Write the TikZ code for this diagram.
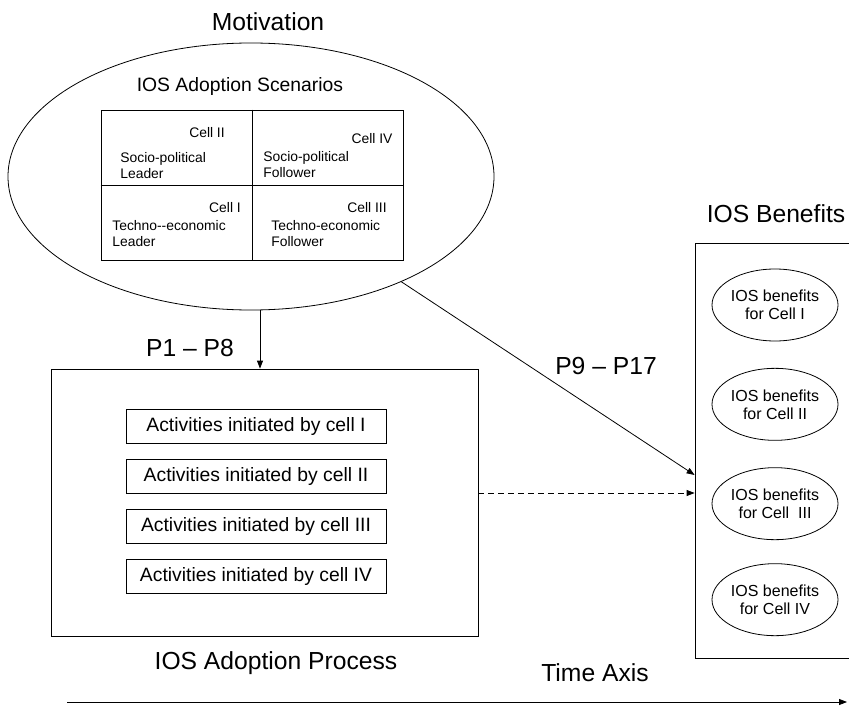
\documentclass[tikz,border=0pt]{standalone}
\usepackage{fontspec}
\setmainfont{Liberation Sans}
\usetikzlibrary{positioning,shapes.geometric,arrows.meta}

\begin{document}
\begin{tikzpicture}[x=0.75pt,y=-0.75pt,line width=0.6pt,on grid,
		>={Triangle[length=6pt,width=4.5pt]},
		heading/.style={inner sep=0pt, font=\fontsize{18.5}{22}\selectfont},
		activity/.style={draw, minimum width=195pt, minimum height=25.5pt, inner sep=0pt, font=\fontsize{14.5}{17}\selectfont},
		benefit/.style={draw, ellipse, minimum width=94.5pt, minimum height=54pt, inner sep=0pt, align=center, font=\fontsize{12}{13.5}\selectfont},
		celltext/.style={inner sep=0pt, align=left, font=\fontsize{10.4}{12}\selectfont}]
		\useasboundingbox (0,0) rectangle (849,706);
		\clip (0,0) rectangle (849,706);
		
		% motivation
		\node[heading] (motivlbl) at (268,22) {Motivation};
		\node[draw, ellipse, minimum width=364.5pt, minimum height=200.25pt, inner sep=0pt] (motiv) at (251,176.5) {};
		\node[inner sep=0pt, font=\fontsize{14.5}{17}\selectfont] (scen) at (240,87) {IOS Adoption Scenarios};
		\node[draw, minimum width=226.5pt, minimum height=112.5pt, inner sep=0pt] (grid) at (252,185) {};
		\draw (grid.north) -- (grid.south);
		\draw (grid.west) -- (grid.east);
		
		\node[celltext] (c2) at (207,133) {Cell II};
		\node[celltext, anchor=west] (c2t) at (120,166) {Socio-political\\Leader};
		\node[celltext] (c4) at (372,139) {Cell IV};
		\node[celltext, anchor=west] (c4t) at (263,164.5) {Socio-political\\Follower};
		\node[celltext] (c1) at (225,208) {Cell I};
		\node[celltext, anchor=west] (c1t) at (112,233.5) {Techno-{}-economic\\Leader};
		\node[celltext] (c3) at (367,208) {Cell III};
		\node[celltext, anchor=west] (c3t) at (271,233.5) {Techno-economic\\Follower};
		
		% adoption process
		\node[heading] (p18) at (190,348) {P1 – P8};
		\node[draw, minimum width=320.25pt, minimum height=200.25pt, inner sep=0pt] (actbox) at (264.5,502.5) {};
		\node[activity] (act1) at (256,426) {Activities initiated by cell I};
		\node[activity] (act2) [below=37.5pt of act1] {Activities initiated by cell II};
		\node[activity] (act3) [below=37.5pt of act2] {Activities initiated by cell III};
		\node[activity] (act4) [below=37.5pt of act3] {Activities initiated by cell IV};
		\node[heading] (proclbl) at (276,663) {IOS Adoption Process};
		
		% benefits
		\node[heading] (benlbl) at (776,214) {IOS Benefits};
		\node[draw, minimum width=138.75pt, minimum height=311.25pt, inner sep=0pt] (benbox) at (787.5,450.5) {};
		\node[benefit] (ben1) at (775,305) {IOS benefits\\for Cell I};
		\node[benefit] (ben2) [below=74.5pt of ben1] {IOS benefits\\for Cell II};
		\node[benefit] (ben3) [below=74.5pt of ben2] {IOS benefits\\for Cell\ \ III};
		\node[benefit] (ben4) [below=72pt of ben3] {IOS benefits\\for Cell IV};
		\node[heading] (p917) at (606,366) {P9 – P17};
		
		% connectors
		\coordinate (downx) at (260,0);
		\coordinate (diagy) at (0,475);
		\coordinate (dashy) at (0,493);
		\draw[->] (motiv.south -| downx) -- (actbox.north -| downx);
		\draw[->] (motiv.-35) -- (benbox.west |- diagy);
		\draw[->, dash pattern=on 4.5pt off 3pt] (actbox.east |- dashy) -- (benbox.west |- dashy);
		
		% time axis
		\node[heading] (timelbl) at (595,673) {Time Axis};
		\coordinate (tstart) at (67,702);
		\coordinate (tend) at (847,702);
		\draw[->] (tstart) -- (tend);
	\end{tikzpicture}
\end{document}
